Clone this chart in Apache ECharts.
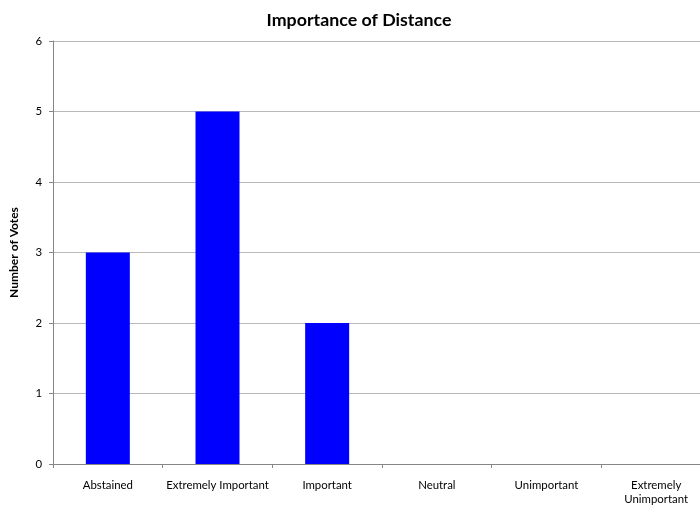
<!DOCTYPE html>
<html><head><meta charset="utf-8">
<script src="https://cdn.jsdelivr.net/npm/echarts@6/dist/echarts.min.js"></script>
<style>html,body{margin:0;padding:0;background:#fff;overflow:hidden;width:700px;height:507px}#c{width:718px;height:507px}</style>
</head><body><div id="c"></div>
<script>
const categories = ['Abstained', 'Extremely Important', 'Important', 'Neutral', 'Unimportant', 'Extremely\nUnimportant'];
const votes = [3, 5, 2, 0, 0, 0];
const yTicks = [0, 1, 2, 3, 4, 5, 6];
const font = 'Lato, "Open Sans", sans-serif';
const chart = echarts.init(document.getElementById('c'), null, {renderer: 'canvas'});
chart.setOption({
  animation: false,
  title: {text: 'Importance of Distance', left: 'center', top: 6,
    textStyle: {fontFamily: font, fontSize: 17.8, fontWeight: 'bold', color: '#000'}},
  grid: {left: 51, top: 41, right: 7, height: 423, containLabel: false},
  xAxis: {type: 'category', data: categories, boundaryGap: true,
    axisLine: {lineStyle: {color: '#868686'}},
    axisTick: {show: true, alignWithLabel: false, length: 4, lineStyle: {color: '#868686'}},
    axisLabel: {fontFamily: font, fontSize: 11.4, color: '#000', margin: 14, lineHeight: 14.5, interval: 0}},
  yAxis: {type: 'value', min: yTicks[0], max: yTicks[yTicks.length - 1], interval: 1,
    name: 'Number of Votes', nameLocation: 'middle', nameGap: 33,
    nameTextStyle: {fontFamily: font, fontSize: 12, fontWeight: 'bold', color: '#000'},
    axisLine: {show: true, lineStyle: {color: '#868686'}},
    axisTick: {show: true, length: 4, lineStyle: {color: '#868686'}},
    axisLabel: {fontFamily: font, fontSize: 11.4, color: '#000', margin: 11},
    splitLine: {lineStyle: {color: '#b8b8b8'}}},
  series: [{type: 'bar', data: votes, barWidth: 44, itemStyle: {color: '#0000ff'}}]
});
</script></body></html>
